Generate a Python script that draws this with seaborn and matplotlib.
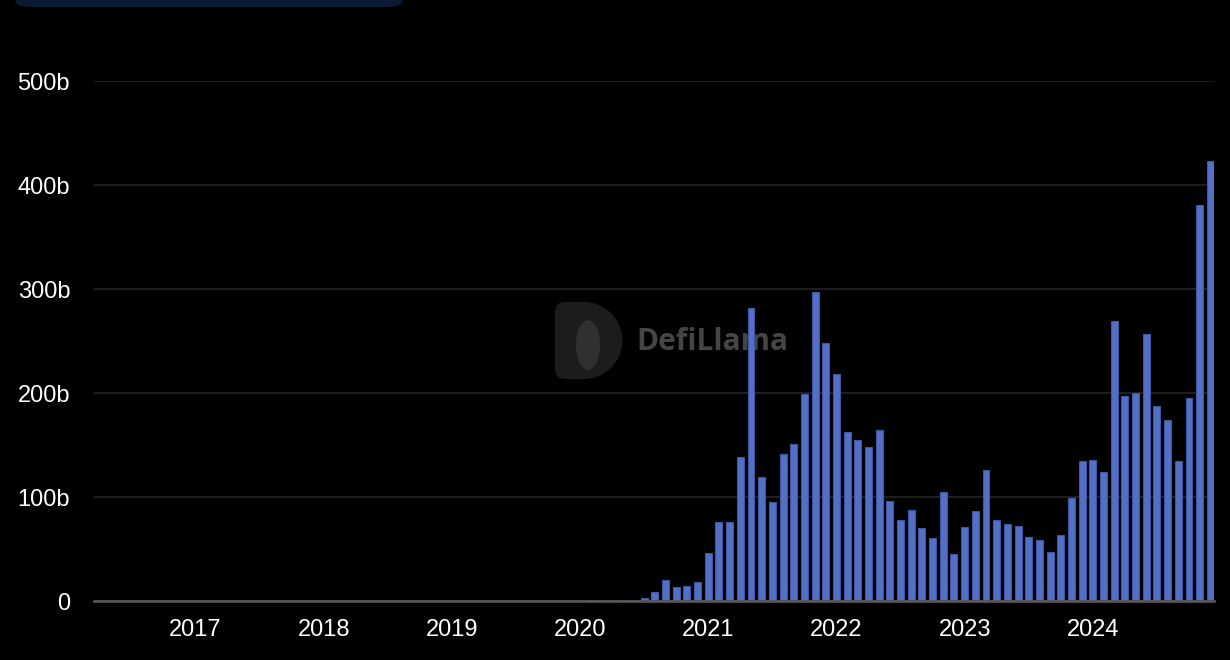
import numpy as np
import pandas as pd
import seaborn as sns
import matplotlib.pyplot as plt
from matplotlib.patches import FancyBboxPatch, Ellipse, Wedge

# monthly volume in billions, Apr 2016 .. Dec 2024
start_month = '2016-04-01'
end_month = '2024-12-01'
zeros_before_2020 = 45
volume_2020 = [0.3, 0.6, 0.6, 0.6, 0.7, 1.3, 2.8, 8.7, 20.0, 13.8, 14.4, 18.0]
volume_2021 = [46.5, 75.6, 76.0, 138.8, 281.7, 119.0, 95.0, 141.6, 150.6, 199.0, 297.0, 248.0]
volume_2022 = [218.0, 162.8, 154.8, 147.8, 164.4, 96.0, 78.0, 87.8, 70.5, 60.3, 104.8, 45.2]
volume_2023 = [71.5, 86.5, 125.6, 77.9, 74.0, 72.0, 61.9, 58.3, 46.8, 63.5, 98.7, 134.9]
volume_2024 = [135.6, 123.7, 268.9, 197.1, 199.7, 257.0, 187.8, 173.7, 134.6, 195.2, 380.4, 423.4]
ytick_vals = [0, 100, 200, 300, 400, 500]
ytick_labels = ['0', '100b', '200b', '300b', '400b', '500b']

months = pd.date_range(start_month, end_month, freq='MS')
values = [0.0] * zeros_before_2020 + volume_2020 + volume_2021 + volume_2022 + volume_2023 + volume_2024
labels = [m.strftime('%Y-%m') for m in months]
df = pd.DataFrame({'month': labels, 'volume': values})

sns.set_style('dark')
plt.rcParams['font.family'] = ['Liberation Sans', 'DejaVu Sans']

W, H = 1230, 660
fig = plt.figure(figsize=(12.3, 6.6), dpi=100, facecolor='black')
ax = fig.add_axes([93.7 / W, 1 - 601 / H, (1214.3 - 93.7) / W, (601 - 81) / H])
ax.set_facecolor('black')

sns.barplot(data=df, x='month', y='volume', order=labels, color='#5470c6', saturation=1,
            width=0.65, edgecolor='#3f56a3', linewidth=0.8, ax=ax)

ax.set_xlim(-0.53, len(labels) - 1 + 0.37)
ax.set_ylim(0, 500)
ax.set_yticks(ytick_vals)
ax.set_yticklabels(ytick_labels)
jan_idx = [i for i, m in enumerate(months) if m.month == 1]
ax.set_xticks(jan_idx)
ax.set_xticklabels([str(months[i].year) for i in jan_idx])
ax.set_xlabel('')
ax.set_ylabel('')

ax.yaxis.grid(True, color='#1e1e1e', linewidth=1.5)
ax.xaxis.grid(False)
ax.set_axisbelow(True)
for s in ['top', 'right', 'left']:
    ax.spines[s].set_visible(False)
ax.spines['bottom'].set_color('#555555')
ax.spines['bottom'].set_linewidth(2)
ax.tick_params(axis='x', colors='white', length=9, width=2, pad=4, labelsize=17)
ax.tick_params(axis='y', colors='white', length=0, pad=17, labelsize=17)

# watermark (inch coordinates, 100 px per inch)
tf = fig.transFigure
ti = fig.dpi_scale_trans
ax.add_patch(FancyBboxPatch((5.55, (H - 379) / 100), 0.40, 0.77, transform=ti,
                            boxstyle='round,pad=0,rounding_size=0.1',
                            facecolor='#1c1c1c', edgecolor='none', zorder=0.4))
ax.add_patch(Wedge((5.84, (H - 340.5) / 100), 0.385, -90, 90, transform=ti,
                   facecolor='#1c1c1c', edgecolor='none', zorder=0.4))
ax.add_patch(Ellipse((5.88, (H - 345) / 100), 0.24, 0.50, transform=ti,
                     facecolor='#303030', edgecolor='none', zorder=0.45))
ax.text(636 / W, 1 - 342 / H, 'DefiLlama', transform=tf, fontsize=21.5, fontweight='bold',
        family=['Open Sans', 'DejaVu Sans'], color='#454545', ha='left', va='center', zorder=0.5)

# top panel edge
fig.patches.append(FancyBboxPatch((15 / W, 1 - 7 / H), 388 / W, 30 / H, transform=tf,
                                  boxstyle='round,pad=0,rounding_size=0.012',
                                  facecolor='#0b1a33', edgecolor='none', figure=fig))

fig.savefig('out.png', dpi=100, facecolor='black')
